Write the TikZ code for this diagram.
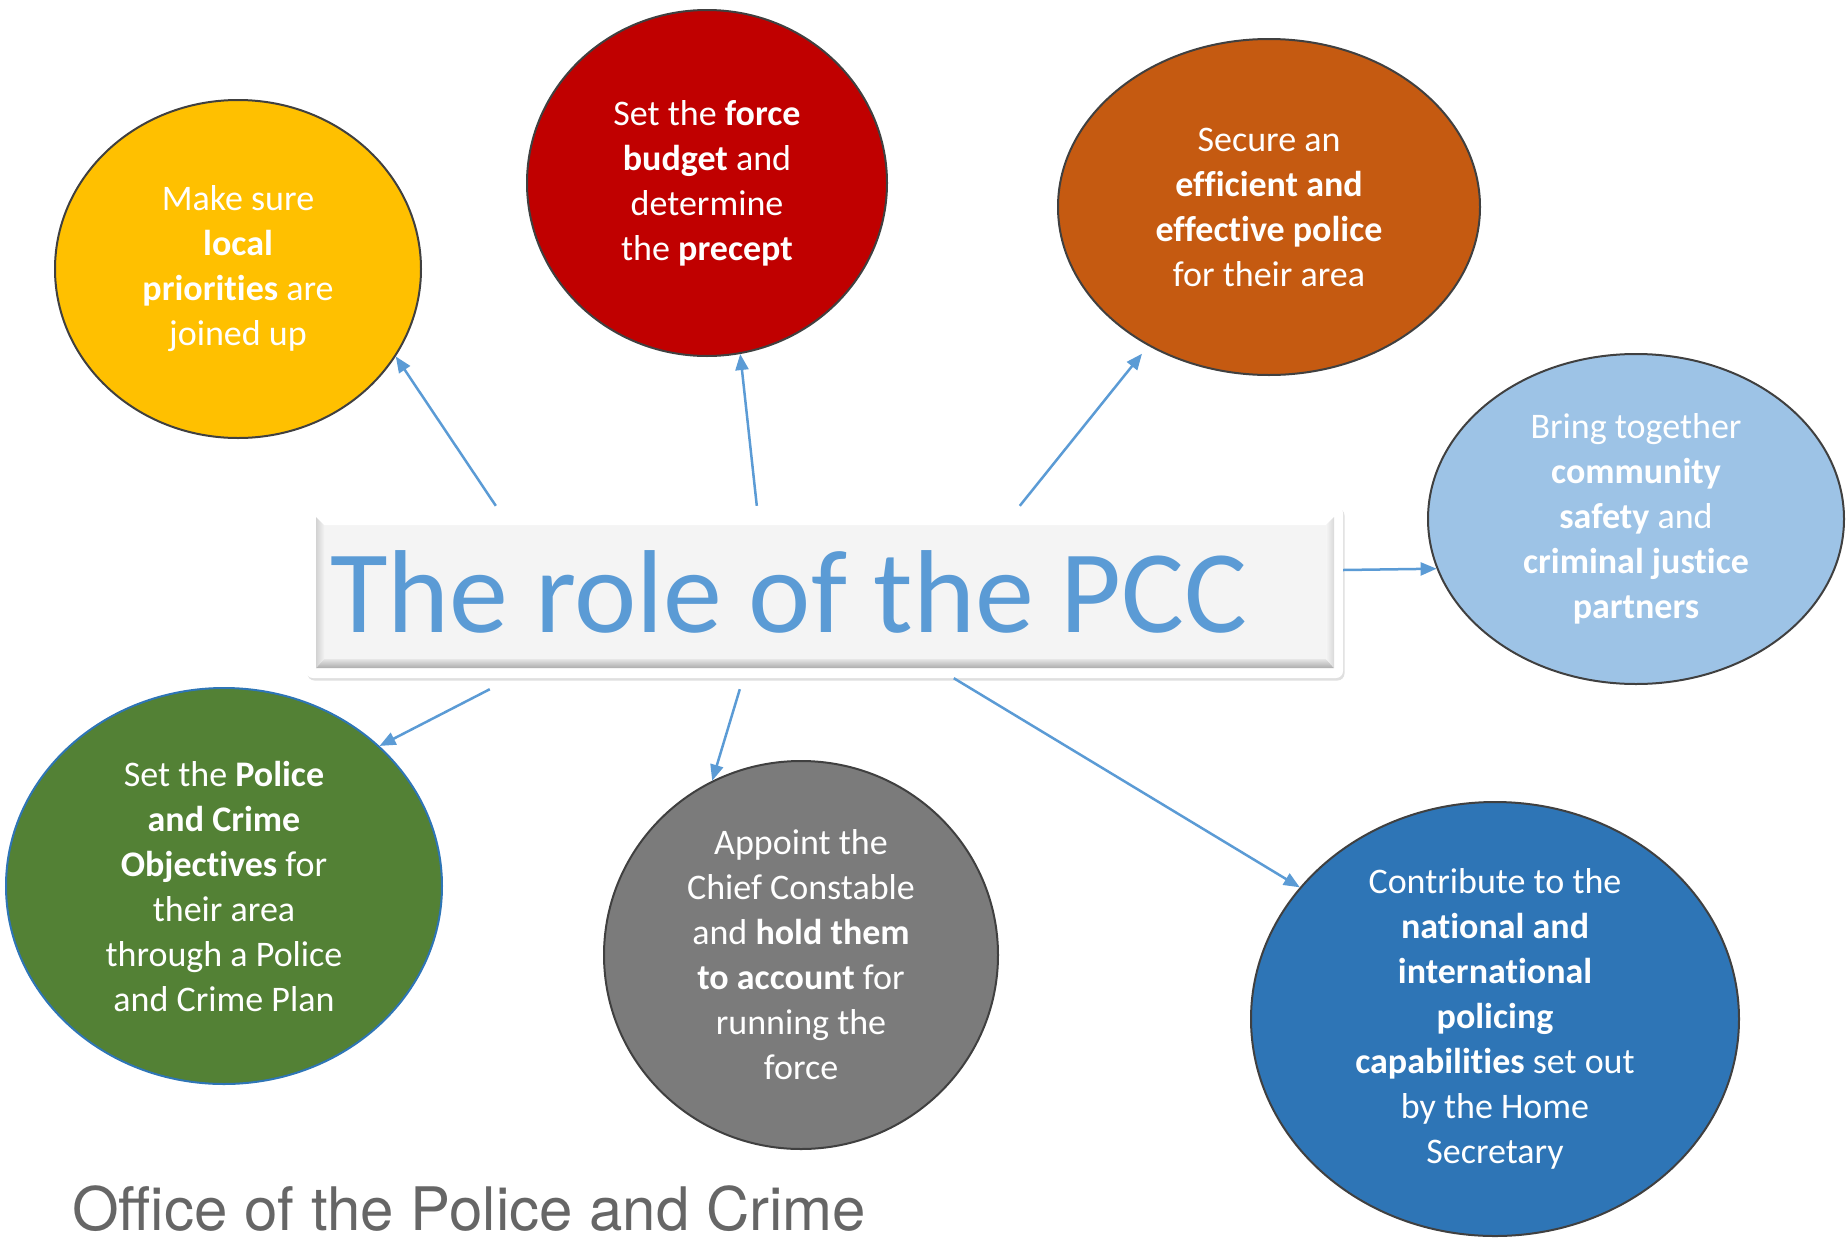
\documentclass[tikz,border=0pt]{standalone}
\usepackage{fontspec}
\setmainfont{Carlito}[Ligatures=NoCommon]
\newfontfamily\footfont{TeX Gyre Heros}
\usetikzlibrary{shapes.geometric,arrows.meta,shadows}
\definecolor{cyellow}{HTML}{FFC000}
\definecolor{cred}{HTML}{C00000}
\definecolor{corange}{HTML}{C55A11}
\definecolor{clight}{HTML}{9DC3E6}
\definecolor{cgreen}{HTML}{538135}
\definecolor{cgrey}{HTML}{7B7B7B}
\definecolor{cblue}{HTML}{2E75B6}
\definecolor{outl}{HTML}{404040}
\definecolor{arrowc}{HTML}{5B9BD5}
\definecolor{footc}{HTML}{666666}
\definecolor{panel}{HTML}{F4F4F4}
\begin{document}
\begin{tikzpicture}[x=1pt,y=-1pt,
  bubble/.style={ellipse, draw=outl, line width=2pt, text=white, align=center,
    font=\fontsize{36}{45}\selectfont, inner sep=0pt},
  conn/.style={draw=arrowc, line width=2.5pt, -{Triangle[length=16pt,width=13pt]}},
  boxframe/.style={rectangle, rounded corners=7pt, fill=white, minimum width=1037pt,
    minimum height=172pt, inner sep=0pt,
    drop shadow={opacity=0.25, shadow xshift=1.5pt, shadow yshift=-2.5pt}}
]
\useasboundingbox (0,0) rectangle (1847,1237);

% central box
\node[boxframe] (box) at (824.5,592) {};
\fill[panel] (316,517) rectangle (1334,668);
% bevels
\fill[white] (316,517) -- (1334,517) -- (1326,525) -- (324,525) -- cycle;
\shade[top color=gray!20, bottom color=gray!65] (316,668) -- (1334,668) -- (1326,659) -- (324,659) -- cycle;
\shade[left color=gray!35, right color=gray!10] (316,517) -- (324,525) -- (324,659) -- (316,668) -- cycle;
\shade[left color=gray!8, right color=gray!30] (1334,517) -- (1326,525) -- (1326,659) -- (1334,668) -- cycle;
\node[anchor=base west, inner sep=0pt, text=arrowc, font=\fontsize{118}{130}\selectfont] (title) at (330,632) {The role of the PCC};

% bubbles
\node[bubble, fill=cyellow, minimum width=366pt, minimum height=338pt] (yellow) at (238,269)
  {Make sure\\\textbf{local}\\\textbf{priorities} are\\joined up};
\node[bubble, fill=cred, minimum width=360pt, minimum height=346pt] (red) at (707,183)
  {Set the \textbf{force}\\\textbf{budget} and\\determine\\the \textbf{precept}};
\node[bubble, fill=corange, minimum width=422pt, minimum height=336pt] (orange) at (1269,207)
  {Secure an\\\textbf{efficient and}\\\textbf{effective police}\\for their area};
\node[bubble, fill=clight, minimum width=416pt, minimum height=330pt] (light) at (1636,519)
  {Bring together\\\textbf{community}\\\textbf{safety} and\\\textbf{criminal justice}\\\textbf{partners}};
\node[bubble, fill=cgreen, draw=cblue, minimum width=436pt, minimum height=396pt] (green) at (224,886)
  {Set the \textbf{Police}\\\textbf{and Crime}\\\textbf{Objectives} for\\their area\\through a Police\\and Crime Plan};
\node[bubble, fill=cgrey, minimum width=394pt, minimum height=388pt] (grey) at (801,955)
  {Appoint the\\Chief Constable\\and \textbf{hold them}\\\textbf{to account} for\\running the\\force};
\node[bubble, fill=cblue, minimum width=488pt, minimum height=434pt] (blue) at (1495,1019)
  {Contribute to the\\\textbf{national and}\\\textbf{international}\\\textbf{policing}\\\textbf{capabilities} set out\\by the Home\\Secretary};

% connectors
\draw[conn] ([xshift=190pt]box.north west) -- (yellow.-29);
\draw[conn] ([xshift=451pt]box.north west) -- (red.-79);
\draw[conn, shorten >=10pt] ([xshift=714pt]box.north west) -- (orange.-131);
\draw[conn] ([yshift=22pt]box.east) -- (light.-166);
\draw[conn] ([xshift=184pt,yshift=-11pt]box.south west) -- (green.42);
\draw[conn] ([xshift=434pt,yshift=-11pt]box.south west) -- (grey.117);
\draw[conn] ([xshift=648pt]box.south west) -- (blue.146);

% footer
\node[anchor=base west, inner sep=0pt, text=footc, font=\footfont\fontsize{60}{70}\selectfont] (footer) at (72,1230) {Office of the Police and Crime};
\end{tikzpicture}
\end{document}
